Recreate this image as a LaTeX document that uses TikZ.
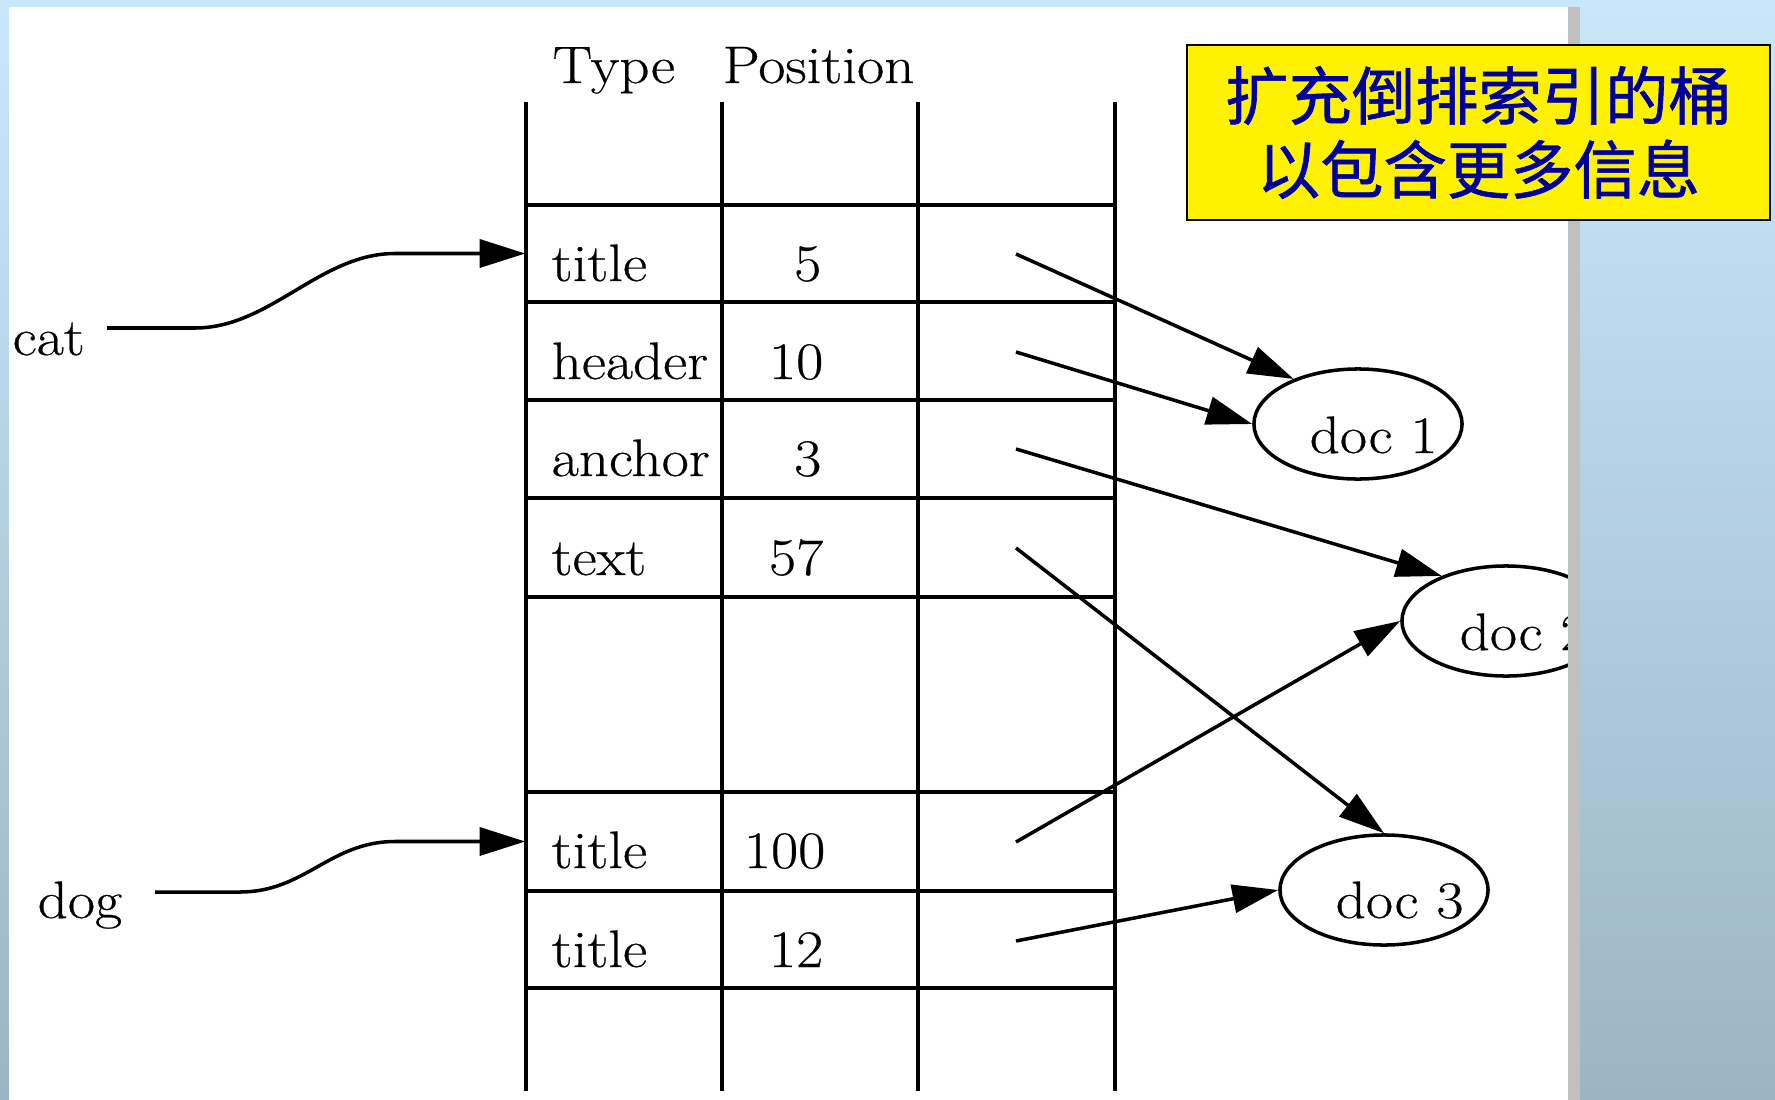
\documentclass[tikz,border=0pt]{standalone}
\usepackage{fontspec}
\setmainfont{Latin Modern Roman}[FakeStretch=1.12, FakeBold=0.4]
\usetikzlibrary{arrows.meta,shapes.geometric}
\newfontfamily\cjk[FakeBold=1]{Noto Sans CJK SC}
\definecolor{bgtop}{RGB}{200,232,250}
\definecolor{bgbot}{RGB}{156,181,196}
\definecolor{stripgray}{RGB}{192,192,192}
\definecolor{cjkblue}{RGB}{0,0,155}
\tikzset{
  lbl/.style={font=\fontsize{15}{18}\selectfont, inner sep=0pt},
  gridline/.style={line width=1.1pt, line cap=rect},
  ptr/.style={line width=1pt, -{Triangle[length=13pt,width=8pt]}},
  doc/.style={draw, ellipse, line width=1pt, minimum width=2.08cm, minimum height=1.10cm, inner sep=0pt},
  cellarea/.style={minimum width=1.96cm, minimum height=0.97cm, inner sep=0pt},
  note/.style={draw=black, fill=yellow, line width=0.6pt, minimum width=5.83cm, minimum height=1.75cm, inner sep=0pt, align=center, text=cjkblue, font=\cjk\fontsize{18}{21}\selectfont},
}
\begin{document}
\begin{tikzpicture}[x=0.01cm,y=-0.01cm]
\useasboundingbox (0,0) rectangle (1775,1100);
\shade[top color=bgtop, bottom color=bgbot] (0,0) rectangle (1775,1100);
\fill[white] (9,7) rectangle (1568,1100);
\begin{scope}
\clip (9,7) rectangle (1568,1100);
% table lines
\foreach \x in {526,722,918,1115} \draw[gridline] (\x,104) -- (\x,1089);
\foreach \y in {205,302,400,498,597,792,891,988} \draw[gridline] (526,\y) -- (1115,\y);
% header
\node[lbl, anchor=base west] (htype) at (552,83) {Type};
\node[lbl, anchor=base west] (hpos) at (722,83) {Position};
% cells
\node[cellarea] (c1) at (624,253.5) {};
\node[cellarea] (c5) at (624,841.5) {};
\node[lbl, anchor=base west] (t1) at (551,281) {title};
\node[lbl, anchor=base west] (t2) at (551,379) {header};
\node[lbl, anchor=base west] (t3) at (551,476) {anchor};
\node[lbl, anchor=base west] (t4) at (551,575) {text};
\node[lbl, anchor=base west] (t5) at (551,868) {title};
\node[lbl, anchor=base west] (t6) at (551,967) {title};
\node[lbl, anchor=base east] (n1) at (822,281) {5};
\node[lbl, anchor=base east] (n2) at (824,379) {10};
\node[lbl, anchor=base east] (n3) at (822,476) {3};
\node[lbl, anchor=base east] (n4) at (824,575) {57};
\node[lbl, anchor=base east] (n5) at (826,868) {100};
\node[lbl, anchor=base east] (n6) at (824,967) {12};
% pointers
\coordinate (p1) at (1016,254);
\coordinate (p2) at (1016,352);
\coordinate (p3) at (1016,449);
\coordinate (p4) at (1016,548);
\coordinate (p5) at (1016,842);
\coordinate (p6) at (1016,941);
% words
\node[lbl, anchor=base west] (cat) at (12,355) {cat};
\node[lbl, anchor=base west] (dog) at (37,918) {dog};
\coordinate (catout) at (107,328);
\coordinate (dogout) at (155,892);
\draw[ptr] (catout) -- (195,328) .. controls (270,328) and (320,253.5) .. (395,253.5) -- (c1.west);
\draw[ptr] (dogout) -- (240,892) .. controls (305,892) and (330,841.5) .. (395,841.5) -- (c5.west);
% documents
\node[doc] (doc1) at (1358,424) {};
\node[doc] (doc2) at (1506,621) {};
\node[doc] (doc3) at (1384,890) {};
\node[lbl, anchor=base west] (d1t) at (1309,453) {doc 1};
\node[lbl, anchor=base west] (d2t) at (1459,650) {doc 2};
\node[lbl, anchor=base west] (d3t) at (1335,918) {doc 3};
\draw[ptr] (p1) -- (doc1.145);
\draw[ptr] (p2) -- (doc1.180);
\draw[ptr] (p3) -- (doc2.145);
\draw[ptr] (p4) -- (doc3.90);
\draw[ptr] (p5) -- (doc2.180);
\draw[ptr] (p6) -- (doc3.180);
\end{scope}
\fill[stripgray] (1568,7) rectangle (1580,1100);
\node[note] (note) at (1478.5,132.5) {扩充倒排索引的桶\\以包含更多信息};
\end{tikzpicture}
\end{document}
